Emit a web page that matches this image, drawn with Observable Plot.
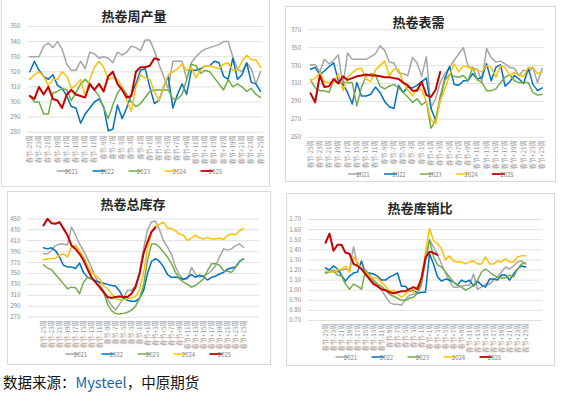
<!DOCTYPE html>
<html><head><meta charset="utf-8">
<script src="https://cdn.jsdelivr.net/npm/d3@7"></script>
<script src="https://cdn.jsdelivr.net/npm/@observablehq/plot@0.6"></script>
<style>
html,body{margin:0;padding:0;background:#fff;}
#root{position:relative;width:564px;height:393px;overflow:hidden;background:#fff;font-family:"Noto Sans CJK SC","Noto Sans",sans-serif;}
.box{position:absolute;border:1px solid #d9d9d9;box-sizing:border-box;}
.chart{position:absolute;}
#caption{position:absolute;left:3px;top:373px;font-size:14.5px;line-height:18px;color:#111;white-space:nowrap;}
#caption .src{color:#1f5fae;}
</style></head><body><div id="root"></div>
<script>
// ---- categories / tick labels ----
const weeks = ["春节-25周","春节-24周","春节-23周","春节-22周","春节-21周","春节-20周","春节-19周","春节-18周","春节-17周","春节-16周",
"春节-15周","春节-14周","春节-13周","春节-12周","春节-11周","春节-10周","春节-9周","春节-8周","春节-7周","春节-6周",
"春节-5周","春节-4周","春节-3周","春节-2周","春节-1周","春节当周","春节+1周","春节+2周","春节+3周","春节+4周",
"春节+5周","春节+6周","春节+7周","春节+8周","春节+9周","春节+10周","春节+11周","春节+12周","春节+13周","春节+14周",
"春节+15周","春节+16周","春节+17周","春节+18周","春节+19周","春节+20周","春节+21周","春节+22周","春节+23周","春节+24周","春节+25周"];
const xTickLabels = ["春节-25周","春节-23周","春节-21周","春节-19周","春节-17周","春节-15周","春节-13周","春节-11周","春节-9周","春节-7周","春节-5周","春节-3周","春节-1周",
"春节+1周","春节+3周","春节+5周","春节+7周","春节+9周","春节+11周","春节+13周","春节+15周","春节+17周","春节+19周","春节+21周","春节+23周","春节+25周"];
const years = ["2021","2022","2023","2024","2025"];
const colors = ["#a5a5a5","#0070c0","#70ad47","#ffc000","#c80000"];

// ---- 热卷周产量 ----
const prodTicks = [280,290,300,310,320,330,340,350];
const prod2021 = [330,330,330,337,339,336,340,335,325,321,321,327,322,333,332,329,330,329,326,333,331,333,337,336,334,341,341,334,325,317,309,327,327,327,315,326,330,333,335,336,337,338,340,340,330,322,320,326,322,312,320];
const prod2022 = [320,327,321,317,315,318,311,309,304,297,296,286,292,296,300,302,297,281,282,298,289,296,305,312,321,322,310,299,301,310,317,296,305,312,305,321,321,322,324,324,327,326,317,315,329,315,318,326,313,312,307];
const prod2023 = [304,300,300,292,292,306,307,309,308,301,306,312,315,312,308,304,296,289,298,306,310,305,300,297,299,303,307,308,308,308,308,302,302,305,315,325,324,319,321,320,316,312,308,315,310,312,310,307,309,305,303];
const prod2024 = [315,318,320,317,311,315,315,320,317,309,311,315,304,315,323,327,323,315,316,315,310,301,294,310,318,316,315,307,301,310,318,320,322,325,321,323,316,321,324,324,323,322,325,326,321,321,327,331,328,328,323];
const prod2025 = [304,302,310,305,310,302,301,296,305,308,305,304,303,312,308,312,307,317,320,312,308,303,304,320,323,323,324,329,328];

// ---- 热卷表需 ----
const demTicks = [250,270,290,310,330,350,370];
const dem2021 = [331,331,323,337,332,336,342,308,344,337,337,337,337,340,343,352,347,334,333,322,321,319,339,333,318,340,283,293,311,321,328,336,343,350,329,327,326,312,349,339,334,335,332,328,327,319,325,323,328,311,327];
const dem2022 = [326,328,320,324,329,333,313,309,300,287,311,296,296,298,306,300,290,284,282,308,300,306,305,308,312,316,282,269,292,316,329,309,308,313,313,321,315,317,332,313,328,331,307,312,319,315,310,327,309,302,305];
const dem2023 = [314,305,302,302,300,314,310,311,311,311,285,306,318,321,320,307,304,307,309,305,300,295,289,293,286,290,260,269,296,314,320,318,317,319,313,328,314,311,302,302,304,311,317,320,313,311,311,311,300,297,298];
const dem2024 = [313,316,322,312,311,311,321,302,317,322,326,327,315,312,325,330,335,319,326,326,311,303,296,305,303,290,269,265,291,304,319,332,323,330,328,326,325,323,330,328,317,330,328,319,322,319,318,328,328,321,323];
const dem2025 = [299,289,319,306,307,315,310,318,314,316,318,319,320,319,319,318,317,317,316,315,311,308,302,302,312,297,295,303,323];

// ---- 热卷总库存 ----
const invTicks = [270,290,310,330,350,370,390,410,430,450];
const inv2021 = [386,386,392,401,404,404,402,435,420,404,392,377,361,343,331,319,303,292,283,294,305,319,319,328,352,395,430,444,446,430,410,398,385,362,347,340,340,361,349,343,346,349,355,364,380,395,393,395,401,404,398];
const inv2022 = [397,395,397,392,380,365,362,362,359,369,352,343,340,337,334,332,330,328,327,318,305,301,299,299,305,318,350,372,377,372,362,348,343,343,342,339,343,348,343,347,344,338,343,345,349,352,358,360,362,372,377];
const inv2023 = [366,360,357,348,340,331,322,325,324,313,334,343,340,334,326,316,294,282,277,276,277,279,283,290,304,328,374,404,404,398,389,380,368,352,340,334,330,325,328,334,340,355,368,368,365,355,354,352,361,371,377];
const inv2024 = [375,377,377,378,383,386,380,399,401,392,380,365,352,346,340,328,322,313,304,302,302,304,305,308,320,350,395,425,437,440,444,433,432,428,422,420,410,415,420,415,413,416,413,413,415,412,420,422,421,428,432];
const inv2025 = [438,450,442,441,444,432,420,401,395,386,374,358,343,334,325,316,307,305,307,308,307,307,313,325,349,386,408,426,434];

// ---- 热卷库销比 ----
const ratioTicks = [0.7,0.8,0.9,1.0,1.1,1.2,1.3,1.4,1.5,1.6,1.7];
const ratio2021 = [1.17,1.18,1.20,1.18,1.20,1.21,1.20,1.43,1.25,1.21,1.16,1.12,1.08,1.04,1.00,0.94,0.88,0.86,0.86,0.85,0.91,0.95,0.96,0.97,1.05,1.30,1.50,1.43,1.35,1.26,1.17,1.09,1.03,1.03,1.04,1.05,1.05,1.16,1.01,1.03,1.06,1.06,1.10,1.13,1.18,1.23,1.21,1.24,1.28,1.29,1.26];
const ratio2022 = [1.22,1.20,1.24,1.21,1.15,1.09,1.14,1.17,1.18,1.29,1.16,1.17,1.16,1.14,1.10,1.10,1.13,1.15,1.17,1.04,1.04,0.99,1.00,0.97,0.98,0.98,1.36,1.26,1.13,1.09,1.11,1.10,1.08,1.05,1.10,1.08,1.10,1.04,1.09,1.05,1.03,1.11,1.11,1.10,1.15,1.15,1.10,1.16,1.21,1.24,1.23];
const ratio2023 = [1.17,1.18,1.19,1.15,1.14,1.06,1.01,1.06,1.04,1.01,1.20,1.15,1.10,1.06,1.04,1.00,0.96,0.94,0.92,0.90,0.90,0.92,0.93,0.97,1.08,1.30,1.50,1.33,1.25,1.23,1.18,1.13,1.08,1.05,1.03,1.00,1.02,1.05,1.10,1.18,1.21,1.18,1.15,1.13,1.12,1.12,1.15,1.13,1.21,1.26,1.27];
const ratio2024 = [1.19,1.18,1.18,1.20,1.21,1.24,1.18,1.33,1.28,1.21,1.18,1.14,1.12,1.12,1.08,1.04,0.99,1.00,0.96,0.93,0.96,1.00,0.98,1.04,1.10,1.38,1.61,1.49,1.46,1.41,1.30,1.34,1.29,1.28,1.28,1.26,1.28,1.29,1.26,1.26,1.33,1.26,1.26,1.29,1.28,1.31,1.28,1.28,1.33,1.34,1.34];
const ratio2025 = [1.47,1.56,1.39,1.45,1.45,1.37,1.36,1.26,1.24,1.21,1.16,1.11,1.06,1.04,1.01,1.00,0.98,0.97,0.98,0.99,0.99,1.01,1.03,1.01,1.12,1.32,1.38,1.37,1.35];

const FONT = '"Noto Sans CJK SC","Noto Sans",sans-serif';
const root = document.getElementById("root");

const panels = [
  {title:"热卷周产量", box:[1,-1,270,187], svg:[1,0,270,186], frame:[27,26,262.3,131.7],
   yDomain:[280,350], yTicks:prodTicks, fmt:d=>String(d), titleAt:[134,15], legendAt:[142.5,171],
   series:[prod2021,prod2022,prod2023,prod2024,prod2025]},
  {title:"热卷表需", box:[285,6,556,182], svg:[285,6,556,182], frame:[307.7,29.3,544,136.7],
   yDomain:[250,370], yTicks:demTicks, fmt:d=>String(d), titleAt:[418.5,21], legendAt:[434,174],
   series:[dem2021,dem2022,dem2023,dem2024,dem2025]},
  {title:"热卷总库存", box:[7,191,271,365], svg:[7,191,271,365], frame:[27,218.3,259,316.7],
   yDomain:[270,450], yTicks:invTicks, fmt:d=>String(d), titleAt:[133,203], legendAt:[151.5,354],
   series:[inv2021,inv2022,inv2023,inv2024,inv2025]},
  {title:"热卷库销比", box:[286,193,555,366], svg:[286,193,555,366], frame:[307.7,219,542.3,320],
   yDomain:[0.7,1.7], yTicks:ratioTicks, fmt:d=>d.toFixed(2), titleAt:[420,207], legendAt:[421.5,357],
   series:[ratio2021,ratio2022,ratio2023,ratio2024,ratio2025]}
];

for (const p of panels) {
  const box = document.createElement("div");
  box.className = "box";
  box.style.left = p.box[0] + "px"; box.style.top = p.box[1] + "px";
  box.style.width = (p.box[2]-p.box[0]) + "px"; box.style.height = (p.box[3]-p.box[1]) + "px";
  root.appendChild(box);

  const [sx, sy, sx2, sy2] = p.svg;
  const [fx0, fy0, fx1, fy1] = p.frame;
  const lineMarks = p.series.map((vals, k) => Plot.line(
    vals.map((v, i) => ({week: weeks[i], value: v, year: years[k]})),
    {x: "week", y: "value", stroke: "year", strokeWidth: k === 4 ? 2 : 1.5,
     strokeLinejoin: "round", strokeLinecap: "round"}));

  const svg = Plot.plot({
    width: sx2 - sx, height: sy2 - sy,
    marginLeft: fx0 - sx, marginRight: sx2 - fx1, marginTop: fy0 - sy, marginBottom: sy2 - fy1,
    style: {background: "transparent", fontFamily: FONT, overflow: "visible"},
    x: {type: "point", domain: weeks, padding: 0.5},
    y: {domain: p.yDomain},
    color: {domain: years, range: colors},
    marks: [
      Plot.gridY(p.yTicks, {stroke: "#d9d9d9", strokeOpacity: 1, strokeWidth: 0.8}),
      Plot.axisY(p.yTicks, {tickSize: 0, tickPadding: 7, fontSize: 6.2, fill: "#8c8c8c", tickFormat: p.fmt, label: null}),
      Plot.axisX(xTickLabels, {tickSize: 0, tickPadding: 3, tickRotate: -90, fontSize: 6.3, fill: "#999999", label: null}),
      ...lineMarks
    ]
  });
  svg.classList.add("chart");
  svg.style.left = sx + "px"; svg.style.top = sy + "px";
  root.appendChild(svg);

  const g = d3.select(svg);
  g.append("text")
    .attr("x", p.titleAt[0] - sx).attr("y", p.titleAt[1] - sy)
    .attr("text-anchor", "middle").attr("dominant-baseline", "central")
    .attr("font-size", 13).attr("font-weight", 700).attr("fill", "#262626")
    .attr("font-family", FONT).text(p.title);

  const stride = 36, total = 4 * stride + 28;
  const lx0 = p.legendAt[0] - total / 2 - sx, ly = p.legendAt[1] - sy;
  years.forEach((yr, k) => {
    const x = lx0 + k * stride;
    g.append("line").attr("x1", x).attr("x2", x + 13).attr("y1", ly).attr("y2", ly)
      .attr("stroke", colors[k]).attr("stroke-width", k === 4 ? 1.8 : 1.5);
    g.append("text").attr("x", x + 15).attr("y", ly).attr("dominant-baseline", "central")
      .attr("font-size", 6).attr("fill", "#7f7f7f").attr("font-family", FONT).text(yr);
  });
}

const cap = document.createElement("div");
cap.id = "caption";
cap.innerHTML = '数据来源：<span class="src">Mysteel</span>，中原期货';
root.appendChild(cap);
</script>
</body></html>
